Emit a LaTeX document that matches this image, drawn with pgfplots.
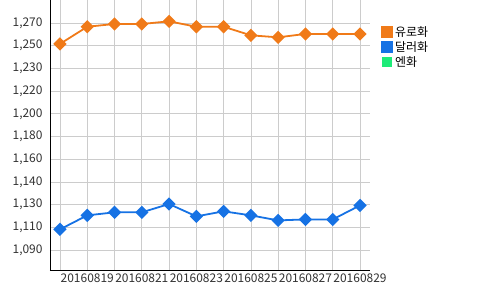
\documentclass[border=0pt]{standalone}
\usepackage{pgfplots}
\pgfplotsset{compat=1.18}
\usepackage{fontspec}
\setmainfont{Noto Sans CJK KR}
\definecolor{eur}{RGB}{240,122,24}
\definecolor{usd}{RGB}{22,114,228}
\definecolor{jpy}{RGB}{30,235,120}
\definecolor{gridc}{RGB}{204,204,204}
\definecolor{txt}{RGB}{50,50,50}
\begin{document}
\begin{tikzpicture}
\useasboundingbox (-50bp,-20bp) rectangle (450bp,270bp);
\begin{axis}[
  scale only axis,
  width=320bp, height=270bp,
  xmin=-0.366, xmax=11.366,
  ymin=1074.2, ymax=1288.2,
  axis x line*=bottom, axis y line*=left,
  axis line style={black, line width=1pt, -},
  xtick={0,...,11},
  xticklabels={,20160819,,20160821,,20160823,,20160825,,20160827,,20160829},
  ytick={1090,1108,1126,1144,1162,1180,1198,1216,1234,1252,1270},
  yticklabels={{1,090},{1,110},{1,130},{1,140},{1,160},{1,180},{1,200},{1,220},{1,230},{1,250},{1,270}},
  major tick length=0pt,
  grid=major,
  grid style={gridc, line width=0.8pt},
  ticklabel style={font=\fontsize{12}{14}\selectfont, text=txt},
  xticklabel style={yshift=-0.5bp},
  yticklabel style={xshift=-4bp},
  legend style={at={(1.035,0.91)}, anchor=north west, draw=none, fill=none,
    font=\fontsize{12}{14}\selectfont, row sep=-0.5bp, inner sep=0pt},
  legend cell align=left,
  legend image code/.code={\fill[#1] (0bp,-5bp) rectangle (10bp,5bp);},
]
\addplot[color=eur, line width=1.8pt, mark=square*, mark size=3.8bp, mark options={fill=eur, draw=eur, rotate=45}]
coordinates {(0,1253.4) (1,1267.0) (2,1269.2) (3,1269.2) (4,1271.3) (5,1267.0) (6,1267.0) (7,1260.2) (8,1258.6) (9,1261.3) (10,1261.3) (11,1261.3)};
\addlegendentry{유로화}
\addplot[color=usd, line width=1.8pt, mark=square*, mark size=3.8bp, mark options={fill=usd, draw=usd, rotate=45}]
coordinates {(0,1106.4) (1,1117.5) (2,1119.9) (3,1119.9) (4,1126.5) (5,1116.7) (6,1120.7) (7,1117.5) (8,1113.5) (9,1114.3) (10,1114.3) (11,1125.4)};
\addlegendentry{달러화}
\addlegendimage{fill=jpy, draw=none}
\addlegendentry{엔화}
\end{axis}
\end{tikzpicture}
\end{document}
